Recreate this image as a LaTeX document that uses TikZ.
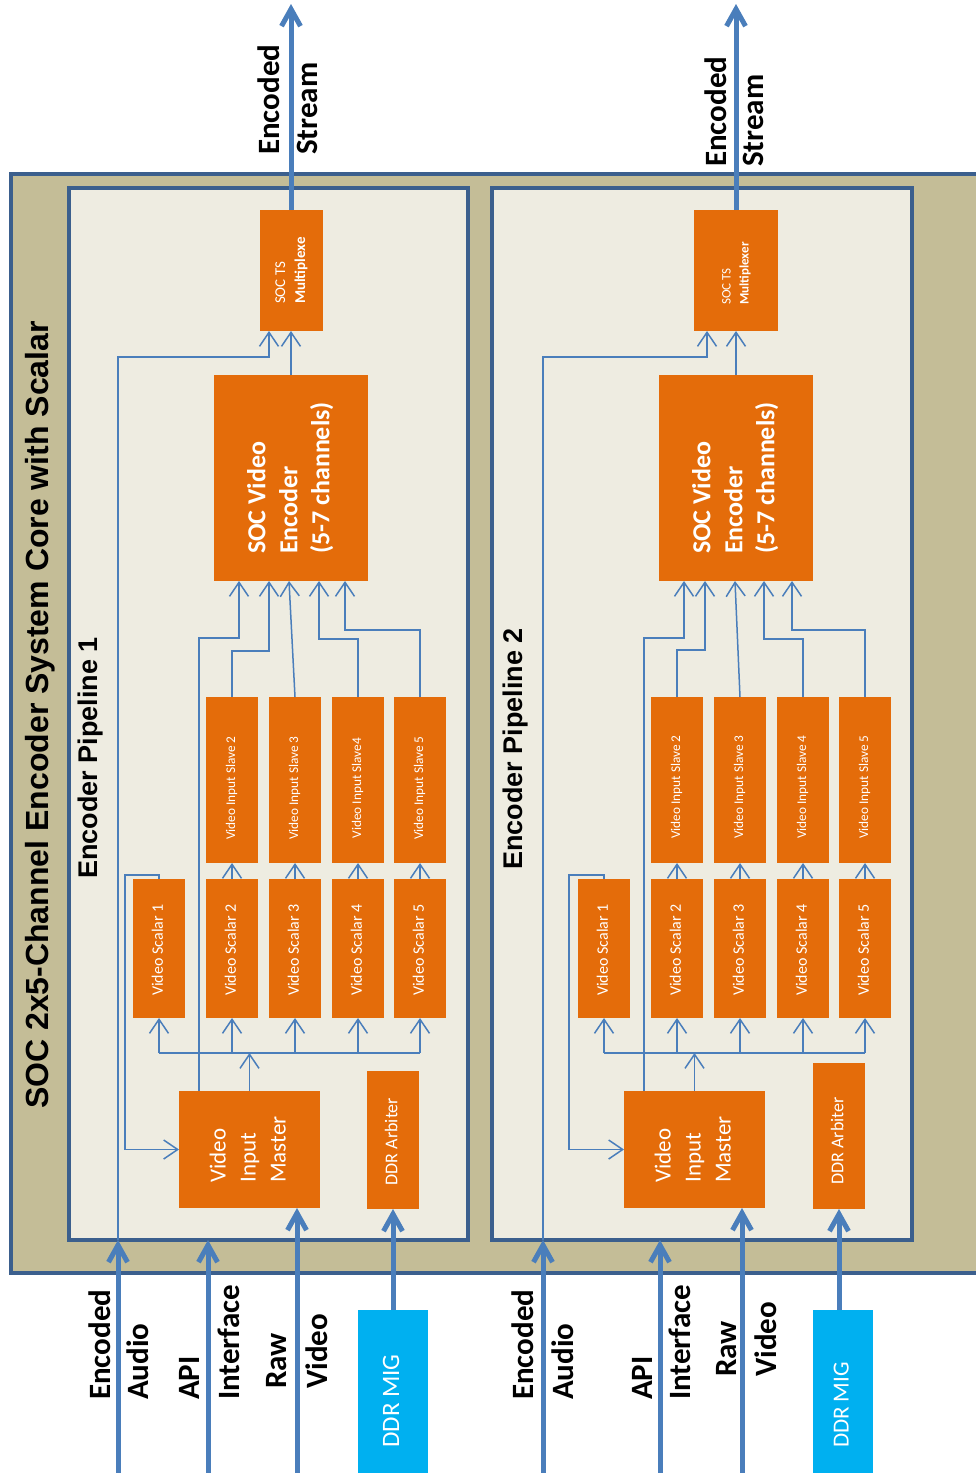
\documentclass[tikz,border=0pt]{standalone}
\usepackage{fontspec}
\usepackage{graphicx}
\setmainfont{Carlito}
\newfontfamily\arialf{Liberation Sans}
\usetikzlibrary{arrows.meta,calc}
\definecolor{orng}{HTML}{E46C0A}
\definecolor{lnblue}{HTML}{4A7EBB}
\definecolor{bdblue}{HTML}{3B5F8D}
\definecolor{tanbg}{HTML}{C4BD97}
\definecolor{cream}{HTML}{EEECE1}
\definecolor{migcyan}{HTML}{00B0F0}
\newcommand{\rtext}[1]{\rotatebox{90}{\begin{tabular}{@{}l@{}}#1\end{tabular}}}
\newcommand{\pad}[1]{\rule{#1}{0pt}}
\begin{document}
\begin{tikzpicture}[x=1pt,y=-1pt,
  box/.style={fill=orng, text=white, inner sep=0pt, outer sep=0pt},
  sz/.style 2 args={minimum width=#1pt, minimum height=#2pt},
  panel/.style={draw=bdblue, line width=4pt, fill=cream, inner sep=0pt, outer sep=0pt},
  lbl/.style={rotate=90, anchor=west, inner sep=0pt, font=\fontsize{31}{37}\selectfont\bfseries},
  ttl/.style={rotate=90, inner sep=0pt},
  thinln/.style={draw=lnblue, line width=1.5pt},
  thinarr/.style={thinln, -{Straight Barb[length=14pt,width=19pt]}},
  thickarr/.style={draw=lnblue, line width=5pt, -{Straight Barb[length=17pt,width=19pt]}}
]
\useasboundingbox (0,0) rectangle (976,1473);
\clip (0,0) rectangle (976,1473);
\fill[white] (0,0) rectangle (976,1473);

% outer system box
\node[draw=bdblue, line width=4pt, fill=tanbg, inner sep=0pt, outer sep=0pt,
      minimum width=1000pt, minimum height=1099pt] (outer) at (510.5,723.5) {};
\node[ttl, font=\arialf\bfseries\fontsize{32}{38}\selectfont] (title) at (40,715)
  {SOC 2x5-Channel Encoder System Core with Scalar};

% pipeline panels
\node[panel, sz={398.5}{1052.5}] (pl1) at (268.25,713.75) {};
\node[panel, sz={419.5}{1052.5}] (pl2) at (701.75,713.75) {};
\node[ttl, font=\arialf\bfseries\fontsize{27}{32}\selectfont] (pl1t) at (91,758) {Encoder Pipeline 1};
\node[ttl, font=\arialf\bfseries\fontsize{27}{32}\selectfont] (pl2t) at (516,749) {Encoder Pipeline 2};

% ---------------- pipeline 1 blocks
\node[box, sz={63}{121}, font=\fontsize{15}{20}\selectfont] (p1mux) at (291,270.5)
  {\rtext{SOC TS\\\textbf{Multiplexe}}};
\node[box, sz={154}{206}, font=\fontsize{26}{32}\selectfont\bfseries] (p1enc) at (291,478)
  {\rtext{SOC Video\\Encoder\\(5-7 channels)}};
\foreach \i/\x/\t in {2/232/Video Input Slave 2,3/295/Video Input Slave 3,4/358/Video Input Slave4,5/420/Video Input Slave 5}
  \node[box, sz={52}{166}, font=\fontsize{13.3}{16}\selectfont] (p1vis\i) at (\x,780) {\rtext{\t\pad{16pt}}};
\foreach \i/\x in {1/159,2/232,3/295,4/358,5/420}
  \node[box, sz={52}{139}, font=\fontsize{16}{19}\selectfont] (p1vs\i) at (\x,948.5) {\rtext{Video Scalar \i\pad{3pt}}};
\node[box, sz={141}{117}, font=\fontsize{23}{30}\selectfont] (p1vim) at (249.5,1149.5)
  {\rtext{Video\\Input\\Master}};
\node[box, sz={52}{138}, font=\fontsize{18}{22}\selectfont] (p1ddr) at (393,1140) {\rtext{DDR Arbiter\pad{3pt}}};
\node[box, fill=migcyan, sz={70}{182}, font=\fontsize{25}{30}\selectfont] (p1mig) at (393,1401) {\rtext{DDR MIG}};

% ---------------- pipeline 2 blocks
\node[box, sz={84}{121}, font=\fontsize{13}{18}\selectfont] (p2mux) at (736,270.5)
  {\rtext{SOC TS\\\textbf{Multiplexer}\pad{6pt}}};
\node[box, sz={154}{206}, font=\fontsize{26}{32}\selectfont\bfseries] (p2enc) at (736,478)
  {\rtext{SOC Video\\Encoder\\(5-7 channels)}};
\foreach \i/\x in {2/677,3/740,4/803,5/865}
  \node[box, sz={52}{166}, font=\fontsize{13.3}{16}\selectfont] (p2vis\i) at (\x,780) {\rtext{Video Input Slave \i\pad{14pt}}};
\foreach \i/\x in {1/604,2/677,3/740,4/803,5/865}
  \node[box, sz={52}{139}, font=\fontsize{16}{19}\selectfont] (p2vs\i) at (\x,948.5) {\rtext{Video Scalar \i\pad{3pt}}};
\node[box, sz={141}{117}, font=\fontsize{23}{30}\selectfont] (p2vim) at (694.5,1149.5)
  {\rtext{Video\\Input\\Master}};
\node[box, sz={52}{146}, font=\fontsize{18}{22}\selectfont] (p2ddr) at (839,1136) {\rtext{DDR Arbiter\pad{10pt}}};
\node[box, fill=migcyan, sz={60}{182}, font=\fontsize{23}{28}\selectfont] (p2mig) at (843,1401) {\rtext{DDR MIG\pad{8pt}}};

% ---------------- coordinates
\coordinate (p1aud) at (118,1480);
\coordinate (p1api) at (208,1480);
\coordinate (p1raw) at (297,1480);
\coordinate (p1es) at (291,4);
\coordinate (p1bus) at (249.5,1053);
\coordinate (p2aud) at (543,1480);
\coordinate (p2api) at (660,1480);
\coordinate (p2raw) at (742,1480);
\coordinate (p2es) at (736,4);
\coordinate (p2bus) at (694.5,1053);

% ---------------- pipeline 1 connectors
\draw[thickarr] (p1aud) -- (p1aud |- pl1.south);
\draw[thinarr] (p1aud |- pl1.south) |- ($(p1mux.south)+(-22,26)$) -- ([xshift=-22pt]p1mux.south);
\draw[thickarr] (p1api) -- (p1api |- pl1.south);
\draw[thickarr] (p1raw) -- ([xshift=47.5pt]p1vim.south);
\draw[thickarr] (p1mig.north) -- (p1ddr.south);
\draw[thickarr] (p1mux.north) -- (p1es);
\draw[thinarr] (p1enc.north) -- (p1mux.south);
\draw[thinarr] (p1vim.north) -- (p1bus);
\draw[thinln] (p1vs1.south |- p1bus) -- (p1vs5.south |- p1bus);
\foreach \i in {1,...,5} \draw[thinarr] (p1vs\i.south |- p1bus) -- (p1vs\i.south);
\foreach \i in {2,...,5} \draw[thinarr] (p1vs\i.north) -- (p1vis\i.south);
\draw[thinarr] ([xshift=20pt]p1vim.north west) |- ([xshift=-52pt,yshift=-57pt]p1enc.south) -- ([xshift=-52pt]p1enc.south);
\draw[thinarr] (p1vs1.north) -- ++(0,-4) -- ++(-34,0) |- (p1vim.west);
\draw[thinarr] (p1vis2.north) |- ([xshift=-22pt,yshift=-70pt]p1enc.south) -- ([xshift=-22pt]p1enc.south);
\draw[thinarr] (p1vis3.north) -- ([xshift=-2pt]p1enc.south);
\draw[thinarr] (p1vis4.north) |- ([xshift=28pt,yshift=-58pt]p1enc.south) -- ([xshift=28pt]p1enc.south);
\draw[thinarr] (p1vis5.north) |- ([xshift=54pt,yshift=-49pt]p1enc.south) -- ([xshift=54pt]p1enc.south);

% ---------------- pipeline 2 connectors
\draw[thickarr] (p2aud) -- (p2aud |- pl2.south);
\draw[thinarr] (p2aud |- pl2.south) |- ($(p2mux.south)+(-29,26)$) -- ([xshift=-29pt]p2mux.south);
\draw[thickarr] (p2api) -- (p2api |- pl2.south);
\draw[thickarr] (p2raw) -- ([xshift=47.5pt]p2vim.south);
\draw[thickarr] ([xshift=-4pt]p2mig.north) -- (p2ddr.south);
\draw[thickarr] (p2mux.north) -- (p2es);
\draw[thinarr] (p2enc.north) -- (p2mux.south);
\draw[thinarr] (p2vim.north) -- (p2bus);
\draw[thinln] (p2vs1.south |- p2bus) -- (p2vs5.south |- p2bus);
\foreach \i in {1,...,5} \draw[thinarr] (p2vs\i.south |- p2bus) -- (p2vs\i.south);
\foreach \i in {2,...,5} \draw[thinarr] (p2vs\i.north) -- (p2vis\i.south);
\draw[thinarr] ([xshift=20pt]p2vim.north west) |- ([xshift=-52pt,yshift=-57pt]p2enc.south) -- ([xshift=-52pt]p2enc.south);
\draw[thinarr] (p2vs1.north) -- ++(0,-4) -- ++(-35,0) |- (p2vim.west);
\draw[thinarr] (p2vis2.north) |- ([xshift=-31pt,yshift=-69pt]p2enc.south) -- ([xshift=-31pt]p2enc.south);
\draw[thinarr] (p2vis3.north) -- ([xshift=-1pt]p2enc.south);
\draw[thinarr] (p2vis4.north) |- ([xshift=28pt,yshift=-58pt]p2enc.south) -- ([xshift=28pt]p2enc.south);
\draw[thinarr] (p2vis5.north) |- ([xshift=56pt,yshift=-49pt]p2enc.south) -- ([xshift=56pt]p2enc.south);

% ---------------- external labels
\node[lbl] (l1a) at (100,1400) {Encoded};
\node[lbl] (l1b) at (138,1400) {Audio};
\node[lbl] (l1c) at (189,1400) {API};
\node[lbl] (l1d) at (229,1400) {Interface};
\node[lbl] (l1e) at (277,1389) {Raw};
\node[lbl] (l1f) at (317,1389) {Video};
\node[lbl] (l1g) at (269,155) {Encoded};
\node[lbl] (l1h) at (307,155) {Stream};
\node[lbl] (l2a) at (523,1400) {Encoded};
\node[lbl] (l2b) at (563,1400) {Audio};
\node[lbl] (l2c) at (642,1400) {API};
\node[lbl] (l2d) at (680,1400) {Interface};
\node[lbl] (l2e) at (727,1377) {Raw};
\node[lbl] (l2f) at (766,1377) {Video};
\node[lbl] (l2g) at (716,167) {Encoded};
\node[lbl] (l2h) at (753,167) {Stream};
\end{tikzpicture}
\end{document}
